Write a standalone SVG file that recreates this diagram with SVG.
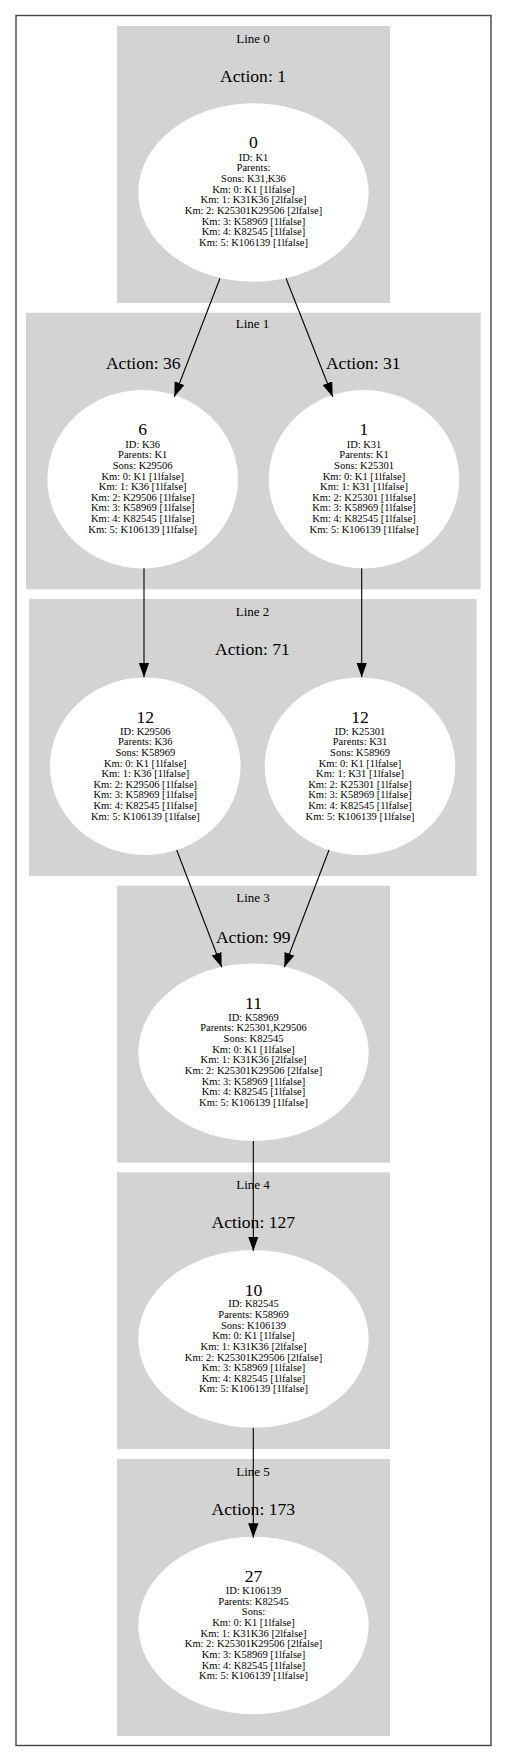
<svg xmlns="http://www.w3.org/2000/svg" width="507" height="1762" viewBox="0 0 507 1762">
<style>
.bg{fill:#ffffff}
.frame{fill:none;stroke:#444444;stroke-width:1.4}
.cl{fill:#d3d3d3;stroke:none}
.cll{font-family:"Liberation Serif","Times New Roman",serif;font-size:13px;fill:#000;text-anchor:middle}
.act{font-family:"Liberation Serif","Times New Roman",serif;font-size:17.6px;fill:#000;text-anchor:middle}
.nd{fill:#ffffff;stroke:none}
.tt{font-family:"Liberation Serif","Times New Roman",serif;font-size:17.6px;fill:#000;text-anchor:middle}
.tx{font-family:"Liberation Serif","Times New Roman",serif;font-size:10.5px;fill:#000;text-anchor:middle}
.ed{stroke:#000;stroke-width:1.1;fill:none;marker-end:url(#ah)}
</style>
<defs>
<marker id="ah" markerUnits="userSpaceOnUse" markerWidth="15" markerHeight="11" refX="14.5" refY="5.2" orient="auto" viewBox="0 0 15 11">
<path d="M0,0 L14.5,5.2 L0,10.4 z" fill="#000"/>
</marker>
</defs>
<rect class="bg" x="0" y="0" width="507" height="1762"/>
<rect class="frame" x="16" y="15.5" width="475" height="1730"/>

<g id="clusters">
<g id="line0"><rect class="cl" x="117" y="26" width="273" height="277"/><text class="cll" x="253" y="42.5">Line 0</text><text class="act" x="253" y="82">Action: 1</text></g>
<g id="line1"><rect class="cl" x="26" y="312.7" width="454.7" height="276.6"/><text class="cll" x="252.5" y="328.3">Line 1</text><text class="act" x="143.3" y="369.3">Action: 36</text><text class="act" x="363.3" y="369.3">Action: 31</text></g>
<g id="line2"><rect class="cl" x="29" y="599" width="447.7" height="277"/><text class="cll" x="252.5" y="615.7">Line 2</text><text class="act" x="252.5" y="655">Action: 71</text></g>
<g id="line3"><rect class="cl" x="117" y="885.7" width="273" height="277"/><text class="cll" x="253" y="901.7">Line 3</text><text class="act" x="253.3" y="942.7">Action: 99</text></g>
<g id="line4"><rect class="cl" x="117" y="1172.3" width="273" height="276.7"/><text class="cll" x="253" y="1189">Line 4</text><text class="act" x="253.3" y="1228.3">Action: 127</text></g>
<g id="line5"><rect class="cl" x="117" y="1459" width="273" height="277"/><text class="cll" x="253" y="1475.7">Line 5</text><text class="act" x="253.3" y="1515">Action: 173</text></g>
</g>

<g id="node0">
<ellipse class="nd" cx="253.5" cy="192.5" rx="115.2" ry="89.2"/>
<text class="tt" x="253.5" y="148.3">0</text>
<text class="tx" x="253.5" y="160.6">ID: K1</text>
<text class="tx" x="253.5" y="171.3">Parents:</text>
<text class="tx" x="253.5" y="181.9">Sons: K31,K36</text>
<text class="tx" x="253.5" y="192.6">Km: 0: K1 [1lfalse]</text>
<text class="tx" x="253.5" y="203.2">Km: 1: K31K36 [2lfalse]</text>
<text class="tx" x="253.5" y="213.9">Km: 2: K25301K29506 [2lfalse]</text>
<text class="tx" x="253.5" y="224.5">Km: 3: K58969 [1lfalse]</text>
<text class="tx" x="253.5" y="235.2">Km: 4: K82545 [1lfalse]</text>
<text class="tx" x="253.5" y="245.8">Km: 5: K106139 [1lfalse]</text>
</g>

<g id="node6">
<ellipse class="nd" cx="142.7" cy="479.2" rx="95.3" ry="89.2"/>
<text class="tt" x="142.7" y="434.5">6</text>
<text class="tx" x="142.7" y="447.5">ID: K36</text>
<text class="tx" x="142.7" y="458.2">Parents: K1</text>
<text class="tx" x="142.7" y="468.8">Sons: K29506</text>
<text class="tx" x="142.7" y="479.5">Km: 0: K1 [1lfalse]</text>
<text class="tx" x="142.7" y="490.1">Km: 1: K36 [1lfalse]</text>
<text class="tx" x="142.7" y="500.8">Km: 2: K29506 [1lfalse]</text>
<text class="tx" x="142.7" y="511.4">Km: 3: K58969 [1lfalse]</text>
<text class="tx" x="142.7" y="522.1">Km: 4: K82545 [1lfalse]</text>
<text class="tx" x="142.7" y="532.7">Km: 5: K106139 [1lfalse]</text>
</g>

<g id="node1">
<ellipse class="nd" cx="364" cy="479.2" rx="95.3" ry="89.2"/>
<text class="tt" x="364" y="434.5">1</text>
<text class="tx" x="364" y="447.5">ID: K31</text>
<text class="tx" x="364" y="458.2">Parents: K1</text>
<text class="tx" x="364" y="468.8">Sons: K25301</text>
<text class="tx" x="364" y="479.5">Km: 0: K1 [1lfalse]</text>
<text class="tx" x="364" y="490.1">Km: 1: K31 [1lfalse]</text>
<text class="tx" x="364" y="500.8">Km: 2: K25301 [1lfalse]</text>
<text class="tx" x="364" y="511.4">Km: 3: K58969 [1lfalse]</text>
<text class="tx" x="364" y="522.1">Km: 4: K82545 [1lfalse]</text>
<text class="tx" x="364" y="532.7">Km: 5: K106139 [1lfalse]</text>
</g>

<g id="node12a">
<ellipse class="nd" cx="145.3" cy="766.2" rx="95.3" ry="88.8"/>
<text class="tt" x="145.3" y="722.5">12</text>
<text class="tx" x="145.3" y="734.5">ID: K29506</text>
<text class="tx" x="145.3" y="745.2">Parents: K36</text>
<text class="tx" x="145.3" y="755.8">Sons: K58969</text>
<text class="tx" x="145.3" y="766.5">Km: 0: K1 [1lfalse]</text>
<text class="tx" x="145.3" y="777.1">Km: 1: K36 [1lfalse]</text>
<text class="tx" x="145.3" y="787.8">Km: 2: K29506 [1lfalse]</text>
<text class="tx" x="145.3" y="798.4">Km: 3: K58969 [1lfalse]</text>
<text class="tx" x="145.3" y="809.1">Km: 4: K82545 [1lfalse]</text>
<text class="tx" x="145.3" y="819.7">Km: 5: K106139 [1lfalse]</text>
</g>

<g id="node12b">
<ellipse class="nd" cx="360" cy="766.2" rx="95.3" ry="88.8"/>
<text class="tt" x="360" y="722.5">12</text>
<text class="tx" x="360" y="734.5">ID: K25301</text>
<text class="tx" x="360" y="745.2">Parents: K31</text>
<text class="tx" x="360" y="755.8">Sons: K58969</text>
<text class="tx" x="360" y="766.5">Km: 0: K1 [1lfalse]</text>
<text class="tx" x="360" y="777.1">Km: 1: K31 [1lfalse]</text>
<text class="tx" x="360" y="787.8">Km: 2: K25301 [1lfalse]</text>
<text class="tx" x="360" y="798.4">Km: 3: K58969 [1lfalse]</text>
<text class="tx" x="360" y="809.1">Km: 4: K82545 [1lfalse]</text>
<text class="tx" x="360" y="819.7">Km: 5: K106139 [1lfalse]</text>
</g>

<g id="node11">
<ellipse class="nd" cx="253.5" cy="1052.2" rx="115.2" ry="88.8"/>
<text class="tt" x="253.5" y="1009">11</text>
<text class="tx" x="253.5" y="1020.6">ID: K58969</text>
<text class="tx" x="253.5" y="1031.3">Parents: K25301,K29506</text>
<text class="tx" x="253.5" y="1041.9">Sons: K82545</text>
<text class="tx" x="253.5" y="1052.6">Km: 0: K1 [1lfalse]</text>
<text class="tx" x="253.5" y="1063.2">Km: 1: K31K36 [2lfalse]</text>
<text class="tx" x="253.5" y="1073.9">Km: 2: K25301K29506 [2lfalse]</text>
<text class="tx" x="253.5" y="1084.5">Km: 3: K58969 [1lfalse]</text>
<text class="tx" x="253.5" y="1095.2">Km: 4: K82545 [1lfalse]</text>
<text class="tx" x="253.5" y="1105.8">Km: 5: K106139 [1lfalse]</text>
</g>

<g id="node10">
<ellipse class="nd" cx="253.5" cy="1338.8" rx="115.2" ry="88.8"/>
<text class="tt" x="253.5" y="1295.5">10</text>
<text class="tx" x="253.5" y="1307.2">ID: K82545</text>
<text class="tx" x="253.5" y="1317.9">Parents: K58969</text>
<text class="tx" x="253.5" y="1328.5">Sons: K106139</text>
<text class="tx" x="253.5" y="1339.2">Km: 0: K1 [1lfalse]</text>
<text class="tx" x="253.5" y="1349.8">Km: 1: K31K36 [2lfalse]</text>
<text class="tx" x="253.5" y="1360.5">Km: 2: K25301K29506 [2lfalse]</text>
<text class="tx" x="253.5" y="1371.1">Km: 3: K58969 [1lfalse]</text>
<text class="tx" x="253.5" y="1381.8">Km: 4: K82545 [1lfalse]</text>
<text class="tx" x="253.5" y="1392.4">Km: 5: K106139 [1lfalse]</text>
</g>

<g id="node27">
<ellipse class="nd" cx="253.5" cy="1625.5" rx="115.2" ry="88.8"/>
<text class="tt" x="253.5" y="1582.2">27</text>
<text class="tx" x="253.5" y="1593.9">ID: K106139</text>
<text class="tx" x="253.5" y="1604.6">Parents: K82545</text>
<text class="tx" x="253.5" y="1615.2">Sons:</text>
<text class="tx" x="253.5" y="1625.9">Km: 0: K1 [1lfalse]</text>
<text class="tx" x="253.5" y="1636.5">Km: 1: K31K36 [2lfalse]</text>
<text class="tx" x="253.5" y="1647.2">Km: 2: K25301K29506 [2lfalse]</text>
<text class="tx" x="253.5" y="1657.8">Km: 3: K58969 [1lfalse]</text>
<text class="tx" x="253.5" y="1668.5">Km: 4: K82545 [1lfalse]</text>
<text class="tx" x="253.5" y="1679.1">Km: 5: K106139 [1lfalse]</text>
</g>

<g id="connectors">
<line class="ed" x1="220" y1="278.3" x2="174.3" y2="396.7"/>
<line class="ed" x1="286" y1="278.3" x2="332.7" y2="396.7"/>
<line class="ed" x1="144" y1="568.3" x2="144" y2="677.3"/>
<line class="ed" x1="361.7" y1="568.3" x2="361.7" y2="677.3"/>
<line class="ed" x1="176.7" y1="850" x2="221.7" y2="967.3"/>
<line class="ed" x1="329" y1="850" x2="284.3" y2="967.3"/>
<line class="ed" x1="253.3" y1="1141" x2="253.3" y2="1251"/>
<line class="ed" x1="253.3" y1="1427.7" x2="253.3" y2="1537.7"/>
</g>
</svg>
